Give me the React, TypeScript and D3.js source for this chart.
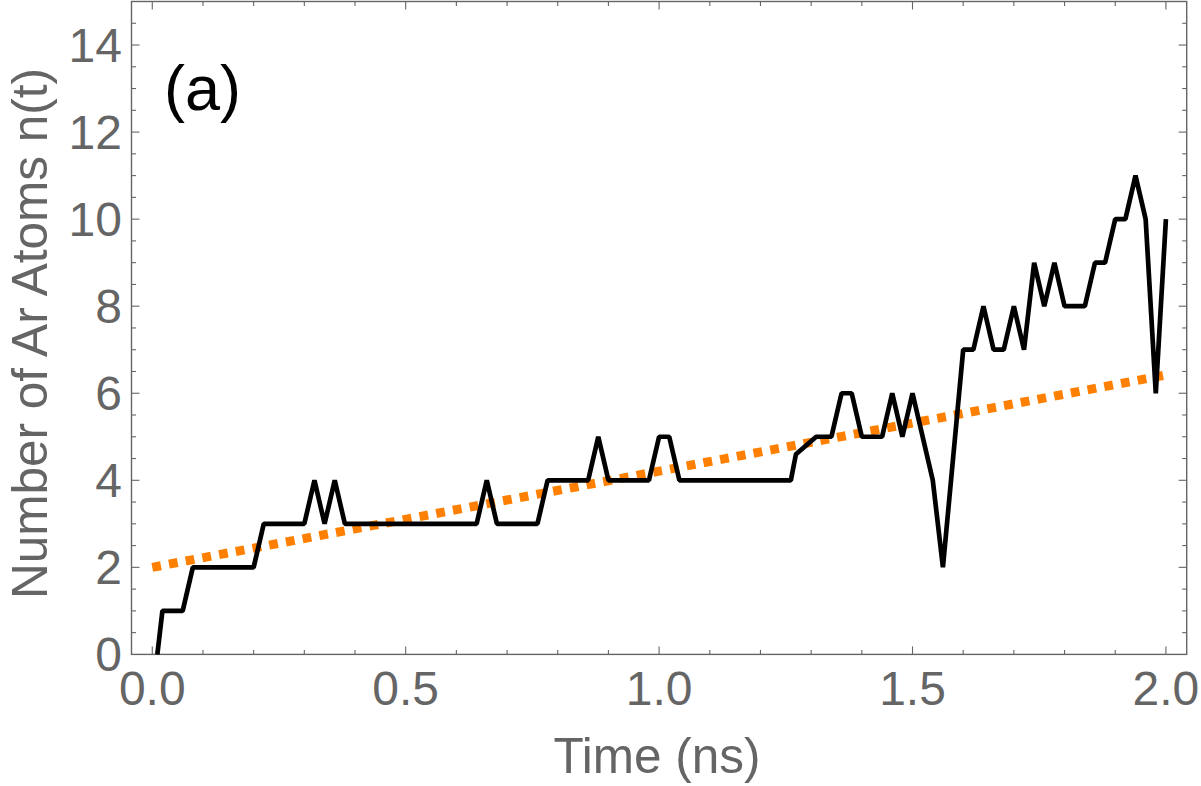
import React from "react";
import * as d3 from "d3";

// Black series: time (ns) and number of Ar atoms
const times = [
  0.01, 0.02, 0.04, 0.06, 0.08, 0.1, 0.12, 0.14, 0.16, 0.18, 0.2, 0.22, 0.24, 0.26, 0.28, 0.3,
  0.32, 0.34, 0.36, 0.38, 0.4, 0.44, 0.48, 0.52, 0.56, 0.6, 0.64, 0.66, 0.68, 0.7, 0.72, 0.74,
  0.76, 0.78, 0.8, 0.82, 0.84, 0.86, 0.88, 0.9, 0.92, 0.94, 0.96, 0.98, 1.0, 1.02, 1.04, 1.08,
  1.12, 1.16, 1.2, 1.24, 1.26, 1.27, 1.31, 1.34, 1.36, 1.38, 1.4, 1.42, 1.44, 1.46, 1.48, 1.5,
  1.54, 1.56, 1.6, 1.62, 1.64, 1.66, 1.68, 1.7, 1.72, 1.74, 1.76, 1.78, 1.8, 1.82, 1.84, 1.86,
  1.88, 1.9, 1.92, 1.94, 1.96, 1.98, 2.0,
];
const counts = [
  0, 1, 1, 1, 2, 2, 2, 2, 2, 2, 2, 3, 3, 3, 3, 3,
  4, 3, 4, 3, 3, 3, 3, 3, 3, 3, 3, 4, 3, 3, 3, 3,
  3, 4, 4, 4, 4, 4, 5, 4, 4, 4, 4, 4, 5, 5, 4, 4,
  4, 4, 4, 4, 4, 4.6, 5, 5, 6, 6, 5, 5, 5, 6, 5, 6,
  4, 2, 7, 7, 8, 7, 7, 8, 7, 9, 8, 9, 8, 8, 8, 9,
  9, 10, 10, 11, 10, 6, 10,
];

// Orange dotted linear fit
const fitTimes = [0, 2];
const fitCounts = [2.0, 6.42];

const xTickValues = [0, 0.5, 1.0, 1.5, 2.0];
const xTickLabels = ["0.0", "0.5", "1.0", "1.5", "2.0"];
const yTickValues = [0, 2, 4, 6, 8, 10, 12, 14];
const yTickLabels = ["0", "2", "4", "6", "8", "10", "12", "14"];

const xTitle = "Time (ns)";
const yTitle = "Number of Ar Atoms n(t)";
const panelLabel = "(a)";

export default function App() {
  const W = 1201;
  const H = 786;
  const left = 131.5;
  const right = 1186.7;
  const top = 1.5;
  const bottom = 654.4;
  const x = d3.scaleLinear().domain([-0.041, 2.041]).range([left, right]);
  const y = d3.scaleLinear().domain([0, 15]).range([bottom, top]);

  const font = "'Liberation Sans', Arial, sans-serif";
  const gray = "#656565";

  const seriesPts: [number, number][] = times.map((t, i) => [t, counts[i]]);
  const fitPts: [number, number][] = fitTimes.map((t, i) => [t, fitCounts[i]]);
  const line = d3
    .line<[number, number]>()
    .x((d) => x(d[0]))
    .y((d) => y(d[1]));

  const xMinor = d3.range(0, 20.5, 1).map((k) => k / 10);
  const yMinor = d3.range(1, 30, 1).map((k) => k / 2);
  const isMajorX = (v: number) => Math.abs(v * 2 - Math.round(v * 2)) < 1e-6;
  const isMajorY = (v: number) => Math.abs(v / 2 - Math.round(v / 2)) < 1e-6;

  return (
    <svg
      width={W}
      height={H}
      style={{ position: "absolute", left: 0, top: 0, background: "#fff" }}
    >
      <rect x={0} y={0} width={W} height={H} fill="#fff" />
      {/* ticks */}
      {xMinor.map((v, i) => {
        const len = isMajorX(v) ? 8 : 4.5;
        const px = x(v);
        return (
          <g key={"xt" + i} stroke={gray} strokeWidth={1.1}>
            <line x1={px} x2={px} y1={bottom} y2={bottom - len} />
            <line x1={px} x2={px} y1={top} y2={top + len} />
          </g>
        );
      })}
      {yMinor.map((v, i) => {
        const len = isMajorY(v) ? 8 : 4.5;
        const py = y(v);
        return (
          <g key={"yt" + i} stroke={gray} strokeWidth={1.1}>
            <line x1={left} x2={left + len} y1={py} y2={py} />
            <line x1={right} x2={right - len} y1={py} y2={py} />
          </g>
        );
      })}
      {/* frame */}
      <rect
        x={left}
        y={top}
        width={right - left}
        height={bottom - top}
        fill="none"
        stroke={gray}
        strokeWidth={1.4}
      />
      {/* fit line */}
      <path
        d={line(fitPts) || ""}
        fill="none"
        stroke="#ff8000"
        strokeWidth={9}
        strokeDasharray="8.8 8.2"
      />
      {/* data line */}
      <path
        d={line(seriesPts) || ""}
        fill="none"
        stroke="#000"
        strokeWidth={4.7}
        strokeLinejoin="bevel"
      />
      {/* tick labels */}
      {xTickValues.map((v, i) => (
        <text
          key={"xl" + i}
          x={x(v)}
          y={705}
          textAnchor="middle"
          fontFamily={font}
          fontSize={48}
          fill={gray}
        >
          {xTickLabels[i]}
        </text>
      ))}
      {yTickValues.map((v, i) => (
        <text
          key={"yl" + i}
          x={122}
          y={y(v) + 17}
          textAnchor="end"
          fontFamily={font}
          fontSize={48}
          fill={gray}
        >
          {yTickLabels[i]}
        </text>
      ))}
      {/* axis titles */}
      <text
        x={657}
        y={773}
        textAnchor="middle"
        fontFamily={font}
        fontSize={49.5}
        fill={gray}
      >
        {xTitle}
      </text>
      <text
        transform={`translate(46.5, 599) rotate(-90)`}
        textAnchor="start"
        fontFamily={font}
        fontSize={49.5}
        fill={gray}
      >
        {yTitle}
      </text>
      <text x={164} y={110} fontFamily={font} fontSize={63} fill="#000">
        {panelLabel}
      </text>
    </svg>
  );
}
